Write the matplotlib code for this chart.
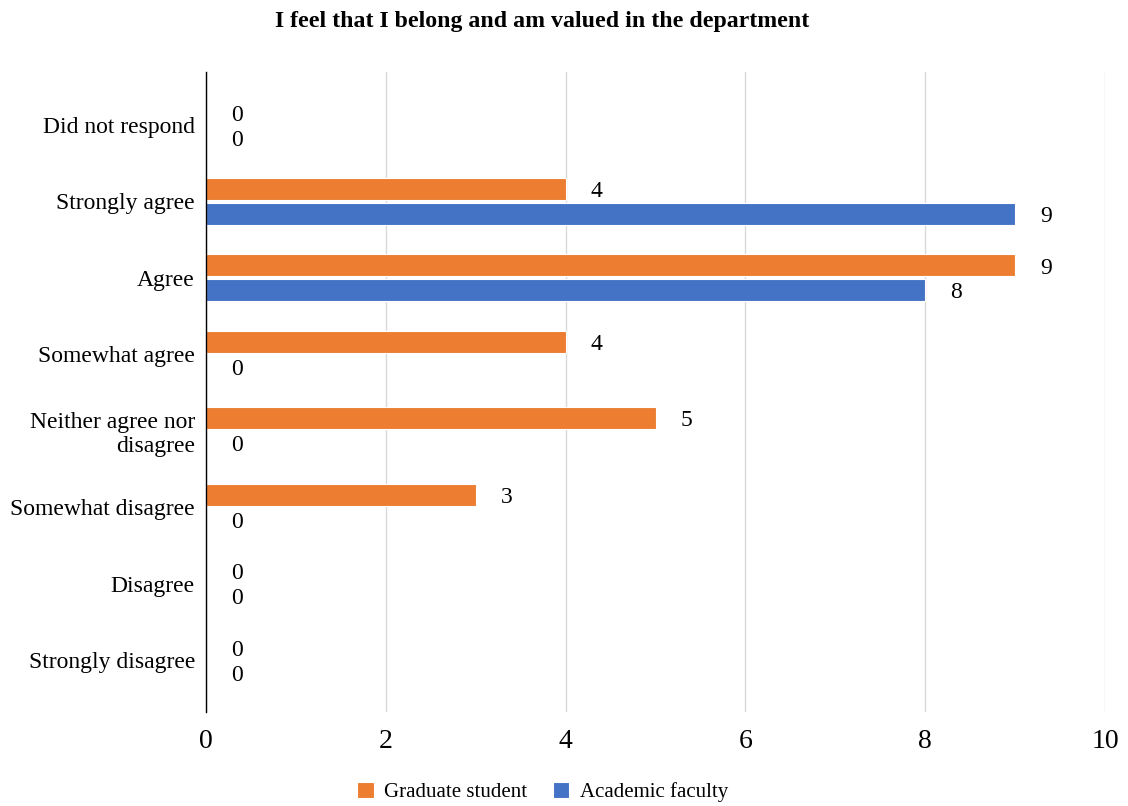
import matplotlib
matplotlib.use("Agg")
import matplotlib.pyplot as plt
import numpy as np

categories = ["Did not respond", "Strongly agree", "Agree", "Somewhat agree",
              "Neither agree nor\ndisagree", "Somewhat disagree", "Disagree", "Strongly disagree"]
grad_student = [0, 4, 9, 4, 5, 3, 0, 0]
academic_faculty = [0, 9, 8, 0, 0, 0, 0, 0]
x_ticks = [0, 2, 4, 6, 8, 10]

ORANGE = "#ED7D31"
BLUE = "#4472C4"

plt.rcParams["font.family"] = ["Liberation Serif", "DejaVu Serif"]

fig = plt.figure(figsize=(11.28, 8.06), dpi=100)
ax = fig.add_axes([206 / 1128, 1 - 712 / 806, (1105 - 206) / 1128, (712 - 72) / 806])

y = np.arange(len(categories))
off, h = 0.163, 0.29
b1 = ax.barh(y - off, grad_student, height=h, color=ORANGE, edgecolor="white", linewidth=0.8,
             label="Graduate student", zorder=3)
b2 = ax.barh(y + off, academic_faculty, height=h, color=BLUE, edgecolor="white", linewidth=0.8,
             label="Academic faculty", zorder=3)

for bars, vals in ((b1, grad_student), (b2, academic_faculty)):
    for bar, v in zip(bars, vals):
        ax.annotate(str(v), (v, bar.get_y() + bar.get_height() / 2), xytext=(22, -2),
                    textcoords="offset points", ha="center", va="center", fontsize=17)

ax.set_xlim(0, 10)
ax.set_ylim(7.68, -0.69)
ax.set_xticks(x_ticks)
ax.set_yticks(y)
ax.set_yticklabels(categories, fontsize=17, linespacing=1.15)
ax.tick_params(axis="y", length=0, pad=8)
ax.tick_params(axis="x", length=0, pad=12, labelsize=20)
ax.grid(axis="x", color="#d9d9d9", linewidth=1, zorder=0)
for s in ("top", "right", "bottom"):
    ax.spines[s].set_visible(False)
ax.spines["left"].set_color("black")
ax.spines["left"].set_linewidth(1)
ax.spines["left"].set_zorder(4)

fig.text(0.481, 1 - 21 / 806, "I feel that I belong and am valued in the department",
         ha="center", va="center", fontsize=17.2, fontweight="bold")

fig.legend(handles=[b1, b2], loc="center", bbox_to_anchor=(0.481, 1 - 792 / 806), ncol=2,
           frameon=False, fontsize=15, handlelength=0.8, handleheight=0.8, columnspacing=1.2,
           handletextpad=0.5)

fig.savefig("out.png", dpi=100)
